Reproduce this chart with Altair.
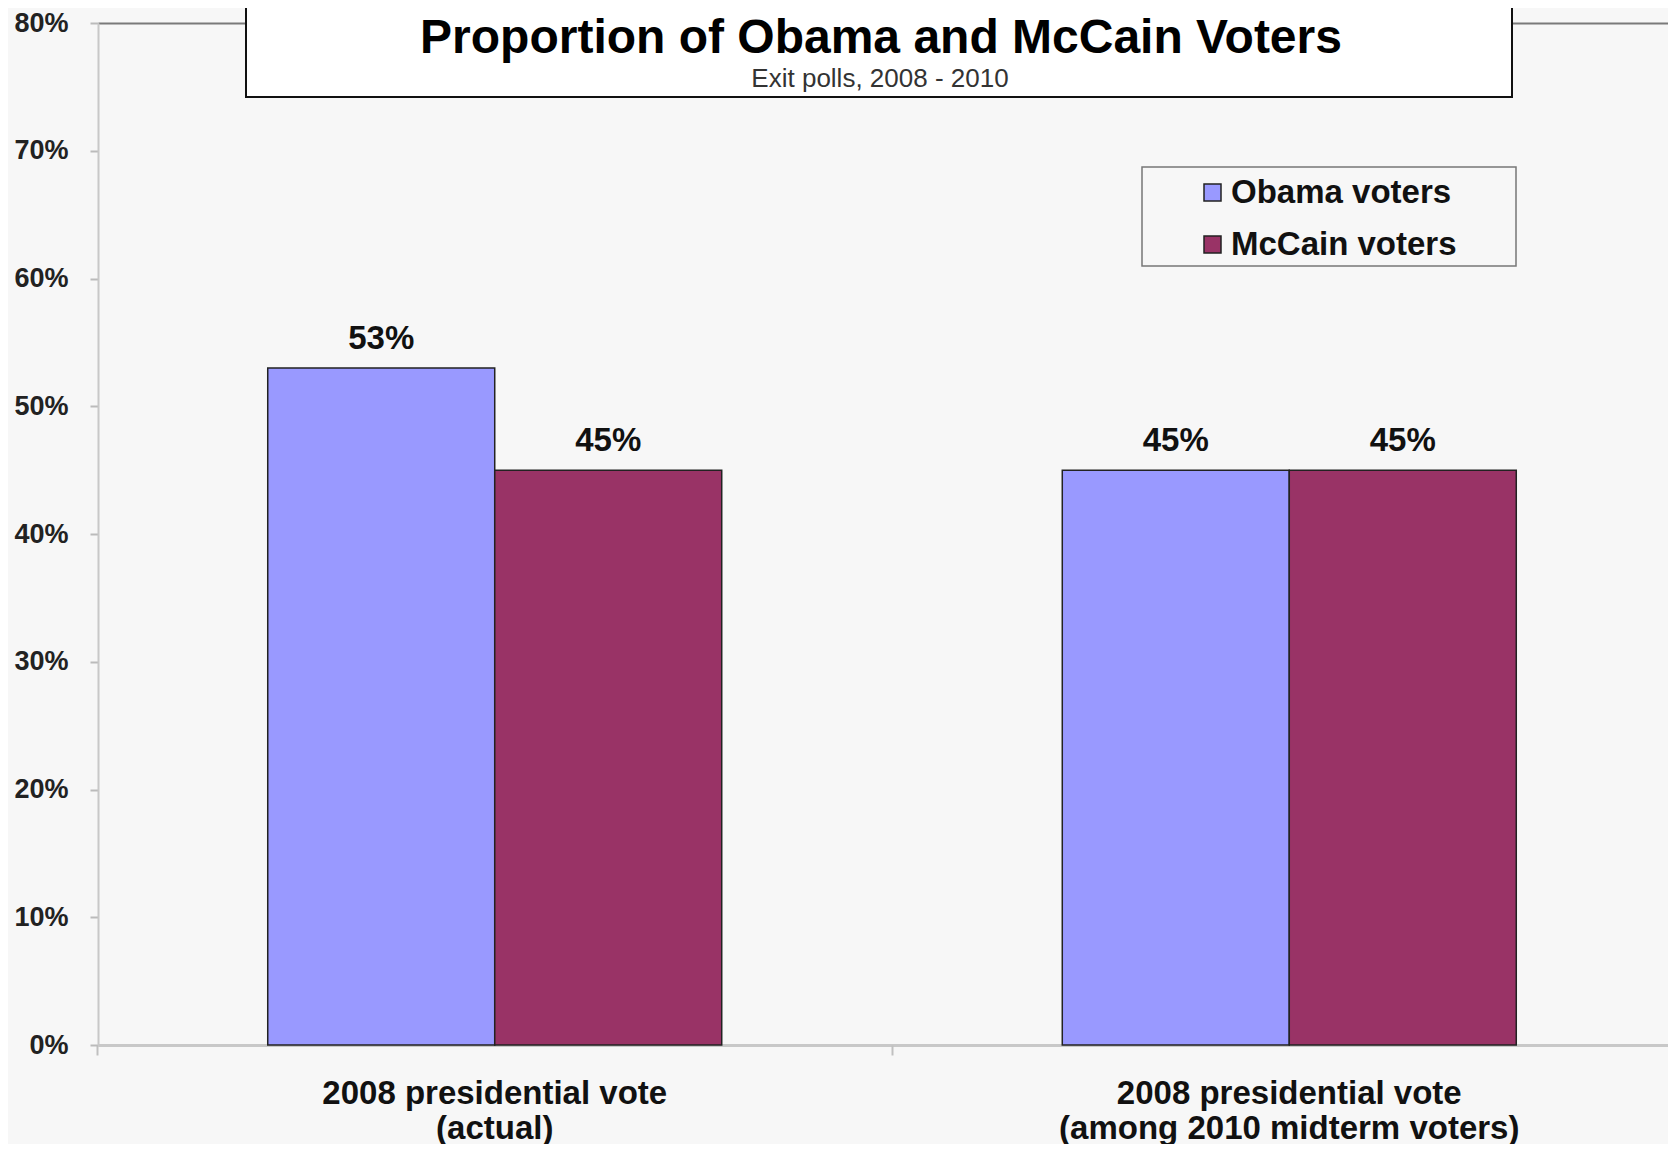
import altair as alt
import pandas as pd

# ---- data ----
categories = [
    "2008 presidential vote (actual)",
    "2008 presidential vote (among 2010 midterm voters)",
]
series = ["Obama voters", "McCain voters"]
obama_share = [0.53, 0.45]
mccain_share = [0.45, 0.45]
y_ticks = [0.0, 0.1, 0.2, 0.3, 0.4, 0.5, 0.6, 0.7, 0.8]
title_text = "Proportion of Obama and McCain Voters"
subtitle_text = "Exit polls, 2008 - 2010"
colors = ["#9999FF", "#993366"]

rows = []
for i, c in enumerate(categories):
    rows.append({"category": c, "series": series[0], "share": obama_share[i]})
    rows.append({"category": c, "series": series[1], "share": mccain_share[i]})
df = pd.DataFrame(rows)

FONT = "Liberation Sans"
W, H = 1570, 1022

xscale = alt.Scale(domain=categories, paddingInner=0.4286, paddingOuter=0.2023, align=0.528)
xoff = alt.XOffset("series:N", sort=series, scale=alt.Scale(paddingInner=0, paddingOuter=0))
yscale = alt.Scale(domain=[0, 0.8], nice=False, zero=True)

yaxis = alt.Axis(title=None, values=y_ticks, format=".0%",
                 labelFont=FONT, labelFontSize=27, labelFontWeight="bold",
                 labelColor="#222222", labelPadding=22, tickSize=8,
                 tickColor="#bbbbbb", tickWidth=2, domainColor="#c8c8c8",
                 domainWidth=2, grid=True, gridWidth=2,
                 gridColor={"condition": {"test": "datum.value >= 0.8", "value": "#7a7a7a"},
                            "value": "transparent"})

label_expr = ("[slice(datum.label, 0, indexof(datum.label, ' (')), "
              "slice(datum.label, indexof(datum.label, ' (') + 1)]")

base = alt.Chart(df)

bars = base.mark_bar(stroke="#222222", strokeWidth=1.5).encode(
    x=alt.X("category:N", sort=categories, scale=xscale,
            axis=alt.Axis(title=None, orient="bottom", labelAngle=0, labelExpr=label_expr,
                          labelFont=FONT, labelFontSize=33, labelFontWeight="bold",
                          labelColor="#111111", labelLineHeight=35, labelPadding=32,
                          ticks=False, tickSize=0, domain=True, domainColor="#c8c8c8",
                          domainWidth=3, grid=False, labelLimit=800)),
    xOffset=xoff,
    y=alt.Y("share:Q", scale=yscale, axis=yaxis),
    color=alt.Color("series:N", sort=series, scale=alt.Scale(domain=series, range=colors),
                    legend=alt.Legend(title=None, orient="none", legendX=1098, legendY=153,
                                      symbolType="square", symbolSize=289,
                                      symbolStrokeColor="#222222", symbolStrokeWidth=1.5,
                                      labelFont=FONT, labelFontSize=33, labelFontWeight="bold",
                                      labelColor="#111111", rowPadding=18, labelOffset=2,
                                      labelLimit=400, padding=0)),
)

labels = base.mark_text(font=FONT, fontSize=33, fontWeight="bold", color="#111111",
                        baseline="alphabetic", dy=-19).encode(
    x=alt.X("category:N", sort=categories, scale=xscale,
            axis=alt.Axis(title=None, orient="bottom", labels=False, domain=False, grid=False,
                          ticks=True, tickSize=10, tickColor="#c0c0c0", tickWidth=2,
                          bandPosition=-0.374)),
    xOffset=xoff,
    y=alt.Y("share:Q", scale=yscale, axis=yaxis),
    text=alt.Text("share:Q", format=".0%"),
)

one = alt.Chart(pd.DataFrame({"k": [0]}))

title_box = one.mark_rect(fill="white", stroke="#111111", strokeWidth=2).encode(
    x=alt.value(148), x2=alt.value(1414), y=alt.value(-40), y2=alt.value(74))

title_mark = one.mark_text(font=FONT, fontSize=48, fontWeight="bold", color="#000000",
                           align="center", baseline="alphabetic").encode(
    x=alt.value(783), y=alt.value(30), text=alt.value(title_text))

subtitle_mark = one.mark_text(font=FONT, fontSize=26, color="#333333",
                              align="center", baseline="alphabetic").encode(
    x=alt.value(782), y=alt.value(64), text=alt.value(subtitle_text))

legend_box = one.mark_rect(fillOpacity=0, stroke="#777777", strokeWidth=1.5).encode(
    x=alt.value(1044), x2=alt.value(1418), y=alt.value(144), y2=alt.value(243))

chart = alt.layer(bars, labels, title_box, title_mark, subtitle_mark, legend_box).resolve_axis(
    x="independent"
).properties(
    width=W, height=H,
    padding={"left": 90, "top": 15, "right": 0, "bottom": 99},
    autosize=alt.AutoSizeParams(type="none"),
    background="#f7f7f7",
).configure_view(stroke=None)

chart.save("out.html", embed_options={"renderer": "svg", "actions": False})
